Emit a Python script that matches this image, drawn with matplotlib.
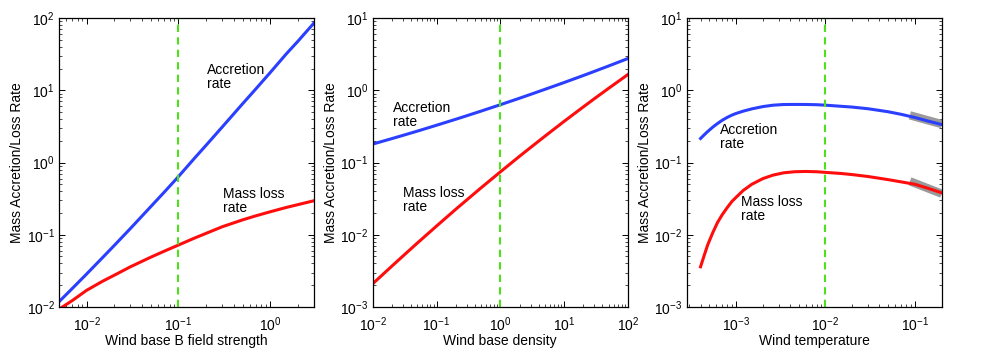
import matplotlib
matplotlib.use('Agg')
import matplotlib.pyplot as plt
from matplotlib.ticker import LogLocator, NullFormatter

plt.rcParams['font.family'] = ['Liberation Sans', 'DejaVu Sans']
plt.rcParams['mathtext.fontset'] = 'custom'
plt.rcParams['mathtext.rm'] = 'Liberation Sans'
plt.rcParams['mathtext.it'] = 'Liberation Sans'
plt.rcParams['font.size'] = 10

BLUE = '#2b3fff'
RED = '#ff0d0d'
GREEN = '#4ee01a'
GRAY = '#9a9a9a'

# panel 1: wind base B field strength
b_field = [0.005, 0.007, 0.01, 0.015, 0.02, 0.03, 0.05, 0.07, 0.1, 0.15, 0.2, 0.3,
           0.5, 0.7, 1.0, 1.5, 2.0, 3.0]
b_accr = [0.0118, 0.0181, 0.0286, 0.0486, 0.071, 0.122, 0.245, 0.388, 0.638, 1.15, 1.73, 3.1,
          6.5, 10.5, 17.6, 32.0, 47.6, 85.5]
b_loss = [0.0093, 0.0123, 0.017, 0.0228, 0.0275, 0.036, 0.0489, 0.0592, 0.072, 0.090, 0.1045, 0.129,
          0.1607, 0.183, 0.208, 0.239, 0.261, 0.296]

# panel 2: wind base density
dens = [0.01, 0.02, 0.03, 0.05, 0.1, 0.2, 0.3, 0.5, 1.0, 2.0, 3.0, 5.0, 10.0, 20.0, 30.0, 50.0, 100.0]
d_accr = [0.18, 0.2145, 0.238, 0.272, 0.328, 0.397, 0.445, 0.515, 0.631, 0.776, 0.879, 1.03,
          1.28, 1.60, 1.83, 2.17, 2.75]
d_loss = [0.0021, 0.00369, 0.00511, 0.00768, 0.0132, 0.0225, 0.0305, 0.0447, 0.0741, 0.122, 0.162,
          0.231, 0.371, 0.588, 0.767, 1.065, 1.65]

# panel 3: wind temperature
temp = [4e-4, 4.4e-4, 4.8e-4, 5.5e-4, 6.2e-4, 7e-4, 8e-4, 9e-4, 1e-3, 1.2e-3, 1.5e-3, 2e-3,
        2.6e-3, 3.4e-3, 4.5e-3, 6e-3, 8e-3, 1e-2, 1.5e-2, 2e-2, 3e-2, 5e-2, 7e-2, 0.1, 0.14, 0.2]
t_accr = [0.215, 0.242, 0.268, 0.310, 0.347, 0.385, 0.423, 0.454, 0.478, 0.514, 0.553, 0.595,
          0.622, 0.635, 0.637, 0.636, 0.631, 0.622, 0.60, 0.585, 0.555, 0.505, 0.465, 0.42, 0.375, 0.335]
t_loss = [0.0036, 0.0052, 0.0072, 0.0108, 0.0148, 0.019, 0.024, 0.029, 0.033, 0.041, 0.050, 0.060,
          0.067, 0.072, 0.0745, 0.0752, 0.0745, 0.073, 0.0705, 0.068, 0.064, 0.058, 0.054, 0.050, 0.044, 0.038]

# grey fit segments at the hot end
seg_t = [0.088, 0.2]
seg_accr = [0.45, 0.34]
seg_loss = [0.055, 0.037]

fig = plt.figure(figsize=(9.81, 3.63), dpi=100)

panels = [
    dict(x=b_field, a=b_accr, l=b_loss, xlim=(0.005, 3), ylim=(1e-2, 1e2), ref=0.1,
         xlabel='Wind base B field strength', left=0.0601,
         accr_pos=(0.58, 0.845), loss_pos=(0.643, 0.415)),
    dict(x=dens, a=d_accr, l=d_loss, xlim=(1e-2, 1e2), ylim=(1e-3, 1e1), ref=1.0,
         xlabel='Wind base density', left=0.380,
         accr_pos=(0.078, 0.712), loss_pos=(0.12, 0.418)),
    dict(x=temp, a=t_accr, l=t_loss, xlim=(2.8e-4, 0.2), ylim=(1e-3, 1e1), ref=1e-2,
         xlabel='Wind temperature', left=0.700,
         accr_pos=(0.13, 0.638), loss_pos=(0.213, 0.386)),
]

for i, p in enumerate(panels):
    ax = fig.add_axes([p['left'], 0.1543, 0.26, 0.796])
    ax.set_xscale('log')
    ax.set_yscale('log')
    if i == 2:
        ax.plot(seg_t, seg_accr, color=GRAY, lw=6, solid_capstyle='butt')
        ax.plot(seg_t, seg_loss, color=GRAY, lw=6, solid_capstyle='butt')
    ax.plot(p['x'], p['a'], color=BLUE, lw=2.2)
    ax.plot(p['x'], p['l'], color=RED, lw=2.2)
    ax.axvline(p['ref'], color=GREEN, lw=1.5, ls=(0, (3.5, 2.5)))
    ax.set_xlim(*p['xlim'])
    ax.set_ylim(*p['ylim'])
    ax.set_xlabel(p['xlabel'], labelpad=0)
    ax.set_ylabel('Mass Accretion/Loss Rate', labelpad=2)
    ax.text(*p['accr_pos'], 'Accretion\nrate', transform=ax.transAxes,
            va='top', ha='left', linespacing=1.0)
    ax.text(*p['loss_pos'], 'Mass loss\nrate', transform=ax.transAxes,
            va='top', ha='left', linespacing=1.0)
    for axis in (ax.xaxis, ax.yaxis):
        axis.set_major_locator(LogLocator(base=10, numticks=12))
        axis.set_minor_locator(LogLocator(base=10, subs=range(2, 10), numticks=12))
        axis.set_minor_formatter(NullFormatter())
    ax.tick_params(which='both', direction='in', top=True, right=True)
    ax.tick_params(which='major', length=4, width=0.7, pad=3)
    ax.tick_params(axis='x', which='major', pad=6)
    ax.tick_params(which='minor', length=2, width=0.5)
    for s in ax.spines.values():
        s.set_linewidth(0.9)

fig.savefig('out.png', dpi=100)
